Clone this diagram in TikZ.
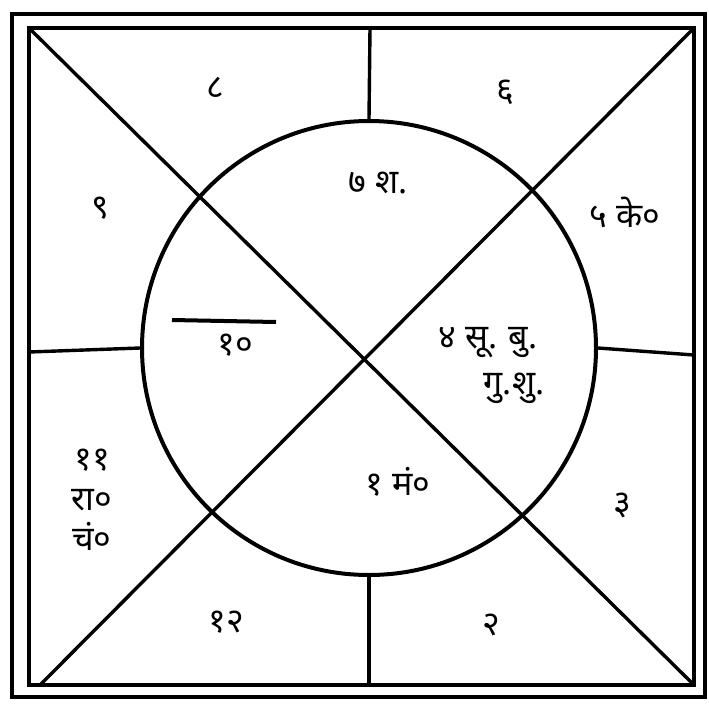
\documentclass[tikz,border=0pt]{standalone}
\usepackage{fontspec}
\newfontfamily\deva[Script=Devanagari]{Noto Sans}
\begin{document}
\begin{tikzpicture}[x=1pt,y=-1pt,
  frame/.style={line width=4.2pt},
  thinline/.style={line width=3.4pt},
  lbl/.style={font=\deva\bfseries\fontsize{34}{40}\selectfont, inner sep=0pt, align=center}]
\useasboundingbox (0,0) rectangle (709,704);
% frames
\draw[frame] (12,14) rectangle (705,697);
\draw[frame] (29,28) rectangle (694,685);
% corners
\coordinate (tl) at (29,28);
\coordinate (tr) at (694,28);
\coordinate (br) at (694,685);
\coordinate (bl) at (40,685);
\coordinate (tm) at (370,28);
\coordinate (bm) at (369,685);
\coordinate (lm) at (29,352);
\coordinate (rm) at (694,355);
% circle
\node[draw, circle, line width=4pt, minimum size=454pt, inner sep=0pt] (c) at (369,348) {};
% diagonals
\draw[thinline] (tl) -- (br);
\draw[thinline] (tr) -- (bl);
% spokes
\draw[thinline] (tm) -- (c.north);
\draw[thinline] (bm) -- (c.south);
\draw[thinline] (lm) -- (c.west);
\draw[thinline] (rm) -- (c.east);
% labels
\node[lbl] (h8) at (215,88) {८};
\node[lbl] (h6) at (505,92) {६};
\node[lbl] (h9) at (100,208) {९};
\node[lbl] (h7) at (378,183) {७ श.};
\node[lbl] (h5) at (625,212) {५ के०};
\coordinate (b1) at (172,320);
\coordinate (b2) at (276,322);
\draw[line width=4pt] (b1) -- (b2);
\node[lbl] (h10) at (235,345) {१०};
\node[lbl] (h4a) at (488,343) {४ सू. बु.};
\node[lbl] (h4b) at (514,388) {गु.शु.};
\node[lbl] (h11) at (92,500) {११\\रा०\\चं०};
\node[lbl] (h1) at (398,482) {१ मं०};
\node[lbl] (h3) at (622,505) {३};
\node[lbl] (h12) at (226,622) {१२};
\node[lbl] (h2) at (491,625) {२};
\end{tikzpicture}
\end{document}
